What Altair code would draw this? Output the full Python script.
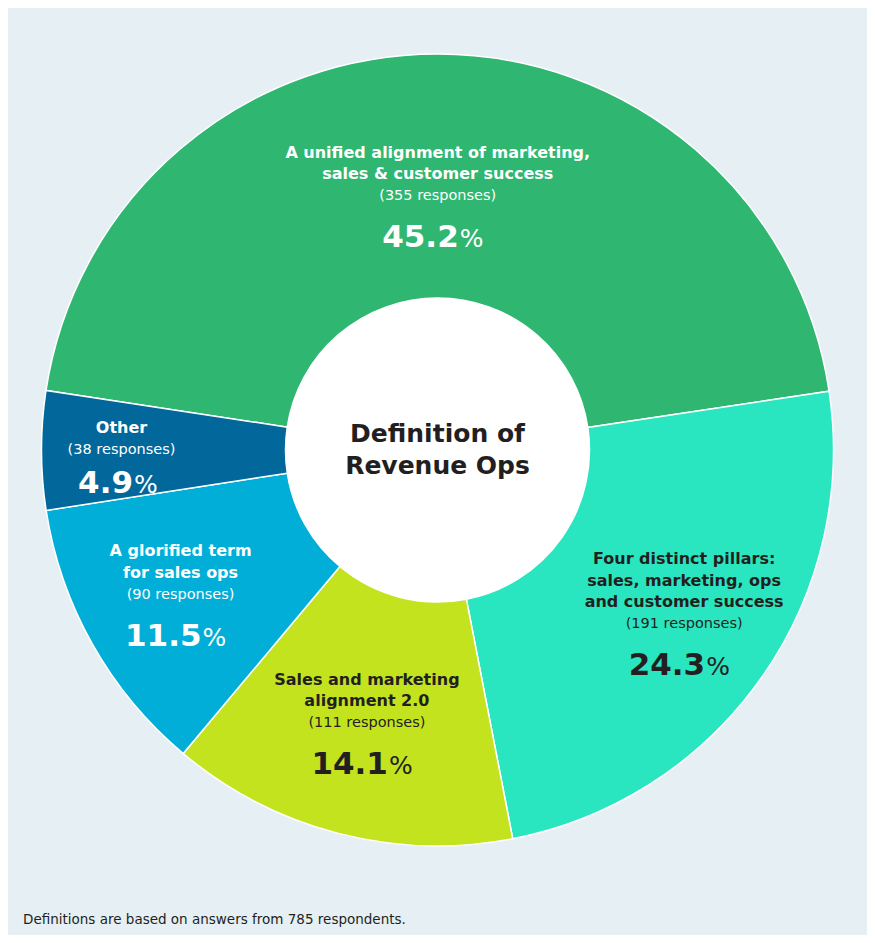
import altair as alt
import pandas as pd
import math

categories = [
    "A unified alignment of marketing, sales & customer success",
    "Four distinct pillars: sales, marketing, ops and customer success",
    "Sales and marketing alignment 2.0",
    "A glorified term for sales ops",
    "Other",
]
label_lines = [
    "A unified alignment of marketing,|sales & customer success",
    "Four distinct pillars:|sales, marketing, ops|and customer success",
    "Sales and marketing|alignment 2.0",
    "A glorified term|for sales ops",
    "Other",
]
responses = [355, 191, 111, 90, 38]
percents = ["45.2", "24.3", "14.1", "11.5", "4.9"]
colors = ["#2fb670", "#29e6c1", "#c3e31f", "#00aed8", "#02679b"]
center_title = ["Definition of", "Revenue Ops"]
footnote = "Definitions are based on answers from 785 respondents."

df = pd.DataFrame({
    "category": categories,
    "label": label_lines,
    "responses": responses,
    "pct": percents,
    "order": list(range(len(categories))),
})
df["resp_text"] = ["(" + str(r) + " responses)" for r in responses]
total = sum(responses)

start = math.radians(-81.35)
theta_scale = alt.Scale(domain=[0, total], range=[start, start + 2 * math.pi])
FONT = "DejaVu Sans"
W, H = 859, 884
CX, CY = W / 2, H / 2
DARK = "#231f20"

arcs = alt.Chart(df).mark_arc(outerRadius=396, innerRadius=152, stroke="white", strokeWidth=1.5).encode(
    theta=alt.Theta("responses:Q", stack=True, scale=theta_scale),
    order=alt.Order("order:Q"),
    color=alt.Color("category:N", scale=alt.Scale(domain=categories, range=colors), legend=None),
)

circle = alt.Chart(pd.DataFrame({"k": [0]})).mark_circle(
    color="white", opacity=1
).encode(x=alt.value(CX), y=alt.value(CY), size=alt.value((2 * 152) ** 2))

lab = alt.Chart(df).transform_window(
    cum="sum(responses)", sort=[alt.SortField("order")], frame=[None, 0]
).transform_calculate(
    mid="datum.cum - datum.responses / 2",
    lr="[254, 302, 282, 295, 316][datum.order]",
    tcol="(datum.order == 1 || datum.order == 2) ? '%s' : '#ffffff'" % DARK,
    split="((length(datum.pct) - 1) * 19 + 9 - 24) / 2",
    pdy="datum.order == 4 ? 43 : 51",
).encode(
    theta=alt.Theta("mid:Q", stack=None, scale=theta_scale),
    radius=alt.Radius("lr:Q", scale=None),
    color=alt.Color("tcol:N", scale=None),
)

titles = lab.mark_text(font=FONT, fontSize=16, fontWeight="bold", baseline="bottom",
                       align="center", lineBreak="|", lineHeight=21.5,
                       dy=alt.expr("-14 - (length(split(datum.label, '|')) - 1) * 21.5")
                       ).encode(text="label:N")
resp = lab.mark_text(font=FONT, fontSize=14.5, fontWeight="normal", baseline="middle",
                     align="center").encode(text="resp_text:N")
pctnum = lab.mark_text(font=FONT, fontSize=31, fontWeight="bold", baseline="alphabetic",
                       align="right", dy=alt.expr("datum.pdy"), dx=alt.expr("datum.split")).encode(text="pct:N")
pctsign = lab.mark_text(font=FONT, fontSize=25, fontWeight="normal", baseline="alphabetic",
                        align="left", dy=alt.expr("datum.pdy"), dx=alt.expr("datum.split + 1")).encode(text=alt.value("%"))

center = alt.Chart(pd.DataFrame({"k": [0]})).mark_text(
    font=FONT, fontSize=25, fontWeight="bold", color=DARK, baseline="middle",
    align="center", lineHeight=32
).encode(x=alt.value(CX), y=alt.value(CY - 16), text=alt.value(center_title))

foot = alt.Chart(pd.DataFrame({"t": [footnote]})).mark_text(
    font=FONT, fontSize=13.5, fontWeight="normal", color=DARK, align="left", baseline="middle"
).encode(x=alt.value(15), y=alt.value(912), text="t:N")

chart = alt.layer(arcs, circle, titles, resp, pctnum, pctsign, center, foot).properties(
    width=W, height=H,
    autosize=alt.AutoSizeParams(type="none"),
    padding={"left": 0, "right": 0, "top": 0, "bottom": 43},
    background="#e5eff4",
).configure_view(stroke=None)

chart.save("out.html", embed_options={"renderer": "svg", "actions": False})
